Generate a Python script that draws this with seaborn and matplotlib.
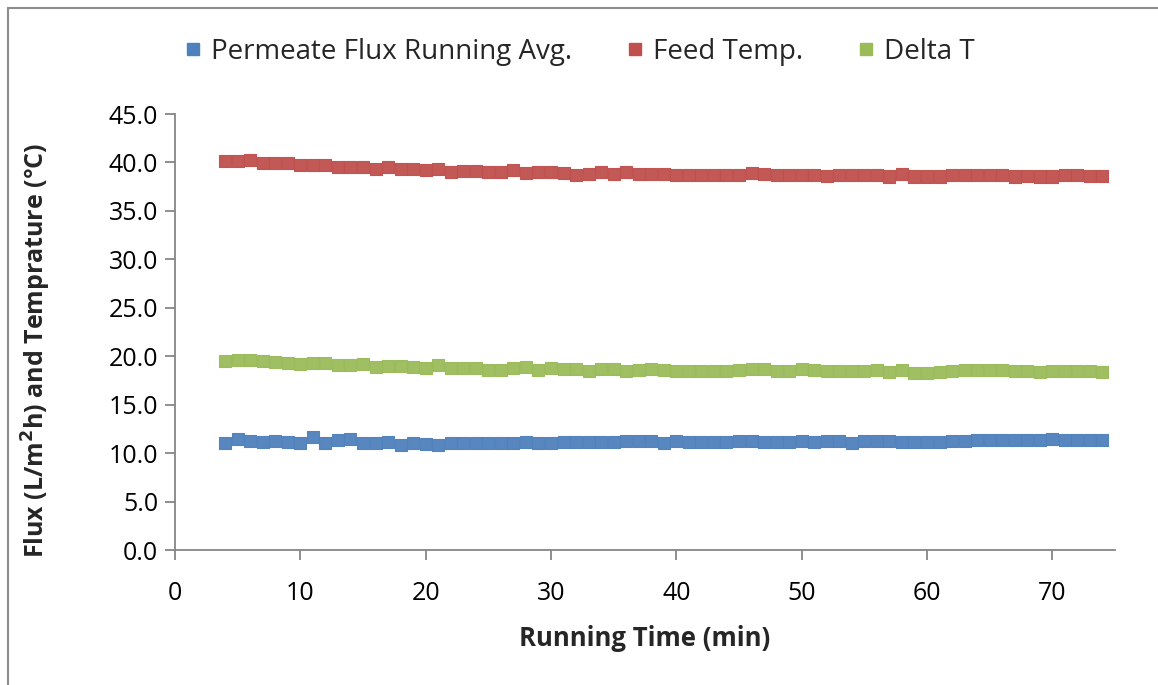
import numpy as np
import pandas as pd
import matplotlib
matplotlib.use("Agg")
import matplotlib.pyplot as plt
import seaborn as sns
from matplotlib.patches import Rectangle

time_min = list(range(4, 75))

permeate_flux = [
    11.07, 11.42, 11.20, 11.15, 11.28, 11.15, 11.07, 11.70, 11.07, 11.35,
    11.49, 11.07, 11.07, 11.15, 10.87, 11.07, 10.94, 10.80, 11.07, 11.00,
    11.00, 11.00, 11.07, 11.00, 11.15, 11.07, 11.07, 11.15, 11.15, 11.15,
    11.15, 11.15, 11.20, 11.20, 11.20, 11.07, 11.20, 11.15, 11.15, 11.15,
    11.15, 11.20, 11.20, 11.15, 11.15, 11.15, 11.20, 11.15, 11.20, 11.20,
    11.07, 11.28, 11.28, 11.28, 11.15, 11.15, 11.15, 11.15, 11.20, 11.20,
    11.35, 11.35, 11.35, 11.35, 11.35, 11.35, 11.42, 11.35, 11.35, 11.35,
    11.35,
]

feed_temp = [
    40.17, 40.17, 40.30, 39.97, 39.97, 39.90, 39.70, 39.70, 39.70, 39.50,
    39.50, 39.50, 39.30, 39.55, 39.35, 39.30, 39.20, 39.30, 39.00, 39.10,
    39.10, 39.00, 39.00, 39.20, 38.95, 39.00, 39.00, 38.95, 38.75, 38.85,
    39.00, 38.85, 39.00, 38.85, 38.80, 38.80, 38.67, 38.67, 38.67, 38.67,
    38.67, 38.67, 38.95, 38.80, 38.67, 38.75, 38.67, 38.75, 38.60, 38.75,
    38.75, 38.75, 38.75, 38.55, 38.80, 38.55, 38.55, 38.55, 38.75, 38.75,
    38.75, 38.75, 38.75, 38.55, 38.60, 38.55, 38.55, 38.75, 38.75, 38.60,
    38.60,
]

delta_t = [
    19.50, 19.60, 19.60, 19.55, 19.40, 19.33, 19.20, 19.33, 19.33, 19.06,
    19.06, 19.20, 18.85, 19.00, 19.00, 18.85, 18.80, 19.06, 18.80, 18.80,
    18.80, 18.60, 18.60, 18.80, 18.85, 18.60, 18.80, 18.70, 18.70, 18.44,
    18.70, 18.70, 18.44, 18.60, 18.70, 18.60, 18.50, 18.44, 18.44, 18.50,
    18.44, 18.60, 18.70, 18.70, 18.50, 18.44, 18.70, 18.60, 18.44, 18.44,
    18.44, 18.44, 18.60, 18.40, 18.60, 18.23, 18.23, 18.37, 18.44, 18.60,
    18.60, 18.60, 18.60, 18.44, 18.44, 18.37, 18.44, 18.44, 18.44, 18.44,
    18.37,
]

series_names = ["Permeate Flux Running Avg.", "Feed Temp.", "Delta T"]
series_colors = ["#4F81BD", "#C0504D", "#9BBB59"]

df = pd.concat([
    pd.DataFrame({"t": time_min, "v": permeate_flux, "s": series_names[0]}),
    pd.DataFrame({"t": time_min, "v": feed_temp, "s": series_names[1]}),
    pd.DataFrame({"t": time_min, "v": delta_t, "s": series_names[2]}),
])

sns.set_theme(style="white")
plt.rcParams["font.family"] = ["Open Sans", "DejaVu Sans"]

fig = plt.figure(figsize=(11.58, 6.85), dpi=100)
W, H = 1158, 685
ax = fig.add_axes([175 / W, 1 - 550 / H, (1115 - 175) / W, (550 - 114) / H])

sns.scatterplot(data=df, x="t", y="v", hue="s", palette=series_colors,
                hue_order=series_names, marker="s", s=75, linewidth=0.8,
                ax=ax, legend=False, zorder=3)
for coll in ax.collections:
    fc = coll.get_facecolor()
    coll.set_edgecolor(fc)
    coll.set_alpha(0.95)

ax.set_xlim(0, 75)
ax.set_ylim(0, 45)
ax.set_xticks(range(0, 80, 10))
ax.set_yticks(np.arange(0, 50, 5))
ax.yaxis.set_major_formatter(matplotlib.ticker.FormatStrFormatter("%.1f"))

axis_gray = "#868686"
for side in ["top", "right"]:
    ax.spines[side].set_visible(False)
for side in ["left", "bottom"]:
    ax.spines[side].set_color(axis_gray)
    ax.spines[side].set_linewidth(1.3)
ax.tick_params(axis="both", which="major", direction="out", length=7,
               width=1.3, color=axis_gray, labelsize=18, labelcolor="black",
               left=True, bottom=True)
ax.tick_params(axis="x", pad=15)
ax.tick_params(axis="y", pad=5)

ax.set_xlabel("Running Time (min)", fontsize=18.5, fontweight="bold")
ax.xaxis.set_label_coords(0.5, -(638 - 550) / 436)
ax.xaxis.label.set_va("center")
ax.set_ylabel("Flux (L/m$^{\\mathbf{2}}$h) and Temprature (°C)", fontsize=18,
              fontweight="bold")
ax.yaxis.set_label_coords((53 - 175) / 940, (550 - 350) / 436)

handles = [plt.Line2D([], [], marker="s", linestyle="", markersize=8,
                      color=c) for c in series_colors]
fig.legend(handles, series_names, loc="center", ncol=3,
           bbox_to_anchor=(0.5, 1 - 52 / H), frameon=False, fontsize=20,
           handletextpad=0.3, columnspacing=1.9, handlelength=0.7)

# outer chart frame
fig.patches.append(Rectangle((8 / W, -0.05), 1.1, 1 - 8 / H + 0.05,
                             transform=fig.transFigure, fill=False,
                             edgecolor="#8C8C8C", linewidth=1.5))

fig.savefig("out.png", dpi=100, facecolor="white")
